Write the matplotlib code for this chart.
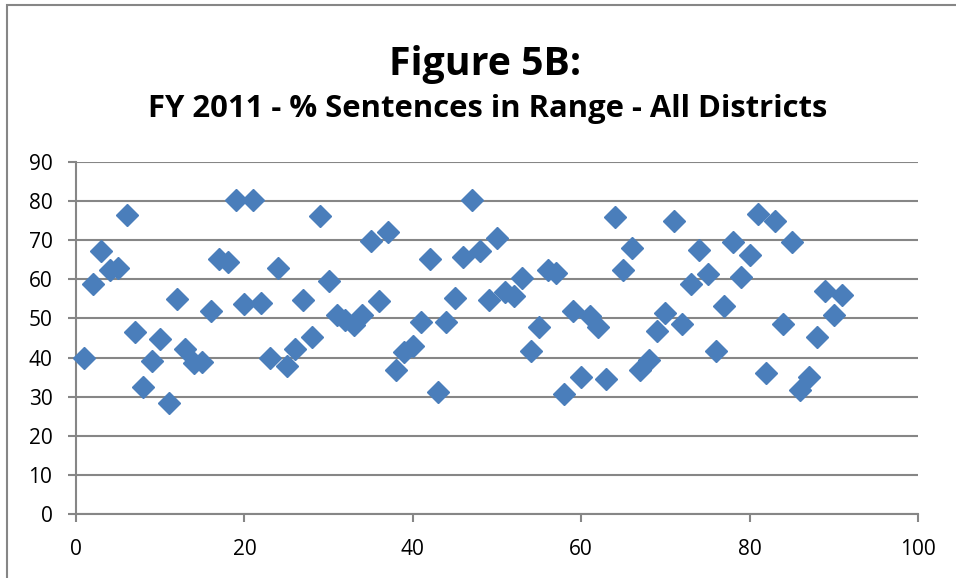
import matplotlib
matplotlib.use("Agg")
import matplotlib.pyplot as plt
from matplotlib.patches import Rectangle

district = list(range(1, 92))
pct_in_range = [
    40.0, 58.7, 67.3, 62.3, 62.8, 76.4, 46.5, 32.5, 39.0, 44.7,
    28.3, 55.0, 42.2, 38.5, 38.8, 51.8, 65.2, 64.4, 80.2, 53.8,
    80.2, 54.0, 40.0, 63.0, 37.9, 42.2, 54.7, 45.3, 76.3, 59.6,
    51.0, 49.7, 48.3, 50.9, 69.8, 54.4, 72.0, 36.7, 41.3, 43.0,
    49.0, 65.2, 31.3, 49.0, 55.2, 65.7, 80.4, 67.3, 54.8, 70.6,
    56.8, 55.7, 60.3, 41.7, 47.9, 62.4, 61.7, 30.6, 52.0, 35.0,
    50.6, 47.9, 34.5, 76.0, 62.5, 68.0, 36.7, 39.4, 46.7, 51.4,
    74.9, 48.6, 58.8, 67.6, 61.4, 41.8, 53.3, 69.5, 60.6, 66.1,
    76.8, 36.0, 75.0, 48.5, 69.5, 31.7, 35.1, 45.2, 56.9, 50.8,
    55.9,
]
title_main = "Figure 5B:"
title_sub = "FY 2011 - % Sentences in Range - All Districts"
x_ticks = [0, 20, 40, 60, 80, 100]
y_ticks = [0, 10, 20, 30, 40, 50, 60, 70, 80, 90]

W, H = 956, 578
fig = plt.figure(figsize=(W / 100, H / 100), dpi=100)
plt.rcParams['font.family'] = ['Open Sans', 'DejaVu Sans']

grid_c = '#868686'
ax = fig.add_axes([76 / W, (H - 514) / H, (918 - 76) / W, (514 - 162) / H])
ax.set_xlim(0, 100)
ax.set_ylim(0, 90)
ax.set_xticks(x_ticks)
ax.set_yticks(y_ticks)
ax.yaxis.grid(True, color=grid_c, linewidth=1.5)
ax.set_axisbelow(True)
for s in ['top', 'right']:
    ax.spines[s].set_visible(False)
for s in ['left', 'bottom']:
    ax.spines[s].set_color(grid_c)
    ax.spines[s].set_linewidth(1.5)
ax.tick_params(axis='both', colors=grid_c, labelcolor='black', length=6,
               width=1.5, labelsize=15)
ax.tick_params(axis='x', pad=12)
ax.tick_params(axis='y', pad=11)

ax.plot(district, pct_in_range, linestyle='none', marker='D', markersize=10.8,
        color='#4a7ebb', markeredgecolor='#4a7ebb', clip_on=False, zorder=3)

fig.text(485 / W, 1 - 65 / H, title_main, ha='center', va='center',
         fontsize=28.3, fontweight='bold')
fig.text(488 / W, 1 - 109 / H, title_sub, ha='center', va='center',
         fontsize=22.3, fontweight='bold')

fig.patches.append(Rectangle((7 / W, -0.1), 1.2, 1 - 5 / H + 0.1,
                             transform=fig.transFigure, fill=False,
                             edgecolor=grid_c, linewidth=1.5))

fig.savefig('out.png', dpi=100)
